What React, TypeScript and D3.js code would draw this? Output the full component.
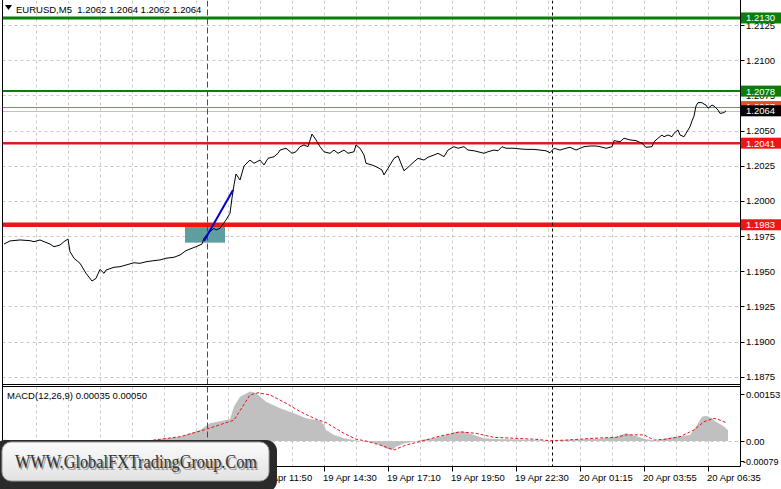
import React from "react";
import * as d3 from "d3";

// ---------- DATA ----------
const priceBars = [0,3,8,13,15,18,20,23,25,28,30,32,33,35,38,41,44,46,48,50,51,55,58,61,65,68,71,75,78,81,85,88,91,94,96,99,100,102,105,106,108,111,113,114,115,116,118,120,121,123,125,128,130,132,135,137,138,141,144,146,148,150,152,154,156,158,160,163,165,167,170,172,175,176,178,180,181,184,186,189,190,192,195,197,200,202,205,207,210,212,215,217,220,222,225,227,230,232,235,237,240,242,245,247,249,251,255,258,261,265,268,271,273,275,278,281,283,286,290,293,296,298,301,304,305,308,310,313,316,319,321,324,325,327,329,330,332,334,335,337,338,340,341,343,344,345,346,347,349,350,351,352,354,355,357,358,360,361];
const priceValues = [1.19693,1.19715,1.19722,1.19717,1.19710,1.19722,1.19710,1.19693,1.19674,1.19686,1.19710,1.19729,1.19639,1.19592,1.19556,1.19485,1.19430,1.19449,1.19513,1.19485,1.19508,1.19528,1.19532,1.19544,1.19560,1.19556,1.19567,1.19575,1.19580,1.19592,1.19599,1.19615,1.19646,1.19663,1.19674,1.19693,1.19734,1.19769,1.19805,1.19793,1.19805,1.19864,1.19912,1.20020,1.20113,1.20191,1.20148,1.20248,1.20262,1.20290,1.20267,1.20290,1.20255,1.20302,1.20314,1.20338,1.20361,1.20374,1.20338,1.20349,1.20385,1.20397,1.20385,1.20475,1.20433,1.20385,1.20349,1.20338,1.20361,1.20338,1.20361,1.20338,1.20349,1.20397,1.20374,1.20326,1.20267,1.20255,1.20243,1.20219,1.20184,1.20231,1.20302,1.20319,1.20214,1.20238,1.20278,1.20302,1.20290,1.20310,1.20326,1.20338,1.20314,1.20361,1.20385,1.20374,1.20385,1.20361,1.20356,1.20349,1.20338,1.20349,1.20361,1.20356,1.20385,1.20374,1.20374,1.20369,1.20366,1.20366,1.20361,1.20356,1.20342,1.20374,1.20361,1.20374,1.20381,1.20361,1.20385,1.20390,1.20390,1.20385,1.20374,1.20385,1.20428,1.20420,1.20445,1.20433,1.20428,1.20409,1.20381,1.20385,1.20420,1.20445,1.20468,1.20456,1.20468,1.20456,1.20480,1.20504,1.20468,1.20456,1.20480,1.20527,1.20568,1.20603,1.20674,1.20698,1.20698,1.20688,1.20681,1.20658,1.20681,1.20674,1.20646,1.20622,1.20627,1.20640];

const histBars = [0,20,30,36,42,48,55,65,75,88,98,103,113,115,118,123,126,131,138,145,151,158,160,161,165,170,175,178,183,188,191,194,196,200,205,208,215,221,226,230,235,240,248,256,265,273,281,290,298,306,311,316,321,326,331,336,343,346,349,351,354,356,360,362];
const histValues = [0.00003,0.00002,0.00000,-0.00010,-0.00030,-0.00036,-0.00025,-0.00008,0.00004,0.00014,0.00036,0.00058,0.00071,0.00112,0.00144,0.00161,0.00156,0.00128,0.00107,0.00090,0.00074,0.00066,0.00052,0.00036,0.00020,0.00009,0.00003,0.00000,-0.00002,-0.00013,-0.00024,-0.00029,-0.00019,-0.00008,-0.00002,0.00003,0.00009,0.00020,0.00030,0.00030,0.00020,0.00009,0.00006,0.00006,0.00003,0.00000,0.00003,0.00006,0.00007,0.00014,0.00025,0.00016,0.00006,0.00001,0.00009,0.00014,0.00020,0.00047,0.00079,0.00082,0.00074,0.00063,0.00047,0.00035];

const signalBars = [0,30,45,55,63,88,101,115,123,127,133,141,148,156,161,170,176,181,188,195,201,208,218,228,236,245,255,265,273,281,295,306,311,320,325,331,338,345,350,355,358,361];
const signalValues = [0.00002,0.00000,-0.00012,-0.00020,-0.00007,0.00014,0.00038,0.00068,0.00150,0.00157,0.00150,0.00123,0.00096,0.00071,0.00060,0.00025,0.00006,0.00000,-0.00013,-0.00029,-0.00013,-0.00002,0.00016,0.00030,0.00025,0.00012,0.00009,0.00006,0.00001,0.00003,0.00009,0.00012,0.00020,0.00020,0.00003,0.00006,0.00014,0.00036,0.00063,0.00074,0.00068,0.00060];

const priceTicks = [1.2125,1.2100,1.2075,1.2050,1.2025,1.2000,1.1975,1.1950,1.1925,1.1900,1.1875];
const macdTicks = [0.00153, 0.0, -0.00079];
const macdTickLabels = ["0.00153", "0.00", "-0.00079"];
const timeTickBars = [32,64,96,128,160,192,224,256,288,320,352];
const timeTickLabels = ["19 Apr 03:50","19 Apr 06:30","19 Apr 09:10","19 Apr 11:50","19 Apr 14:30","19 Apr 17:10","19 Apr 19:50","19 Apr 22:30","20 Apr 01:15","20 Apr 03:55","20 Apr 06:35"];
const gridBars = d3.range(16, 368, 16);

const greenLevels = [1.2130, 1.2078];
const redLevels = [1.2041, 1.1983];
const askLevel = 1.2067;
const bidLevel = 1.2064;
const trendBars = [100, 114.5];
const trendValues = [1.19715, 1.20077];
const zoneBars = [90.5, 110.5];
const zoneValues = [1.19703, 1.19816];
const redVLineBar = 101.5;
const blackVLineBar = 273.8;

const title = "EURUSD,M5  1.2062 1.2064 1.2062 1.2064";
const macdTitle = "MACD(12,26,9) 0.00035 0.00050";
const watermark = "WWW.GlobalFXTradingGroup.Com";

// ---------- CHART ----------
const W = 781, H = 489;
const L = 2.5, R = 740.5;
const mainTop = 0.5, mainBottom = 384.5;
const macdTop = 386.5, macdBottom = 466.5;
const font = "'Liberation Sans', Arial, sans-serif";

export default function App() {
  const x = d3.scaleLinear().domain([0, 368]).range([4, 740]);
  const y = d3.scaleLinear().domain([1.1875, 1.2125]).range([376.7, 25]);
  const my = d3.scaleLinear().domain([-0.00079, 0.00153]).range([465.3, 394]);

  const priceData = priceBars.map((b, i) => [b, priceValues[i]] as [number, number]);
  const histData = histBars.map((b, i) => [b, histValues[i]] as [number, number]);
  const sigData = signalBars.map((b, i) => [b, signalValues[i]] as [number, number]);

  const priceLine = d3.line<[number, number]>().x(d => x(d[0])).y(d => y(d[1]))(priceData) || "";
  const histArea = d3.area<[number, number]>().x(d => x(d[0])).y0(my(0)).y1(d => my(d[1]))(histData) || "";
  const sigLine = d3.line<[number, number]>().x(d => x(d[0])).y(d => my(d[1]))(sigData) || "";

  const grid = "#c8c8c8";
  const px = (v: number) => Math.round(v) + 0.5;

  const boxLabel = (v: number, fill: string, key: string) => {
    const cy = y(v);
    return (
      <g key={key}>
        <rect x={741} y={cy - 5.5} width={40} height={11} fill={fill} />
        <text x={746} y={cy + 3.5} fontSize={9.5} fill="#fff" fontFamily={font}>{v.toFixed(4)}</text>
      </g>
    );
  };

  return (
    <svg width={W} height={H} style={{ position: "absolute", left: 0, top: 0, background: "#fff", display: "block" }}>
      <defs>
        <linearGradient id="wmg" x1="0" y1="0" x2="0" y2="1">
          <stop offset="0" stopColor="#fbfbfb" />
          <stop offset="1" stopColor="#e2e2e2" />
        </linearGradient>
        <clipPath id="mainClip"><rect x={L} y={mainTop} width={R - L} height={mainBottom - mainTop} /></clipPath>
        <clipPath id="macdClip"><rect x={L} y={macdTop} width={R - L} height={macdBottom - macdTop} /></clipPath>
      </defs>
      <rect x={0} y={0} width={W} height={H} fill="#fff" />

      {/* main grid */}
      <g clipPath="url(#mainClip)">
        {gridBars.map(b => (
          <line key={"gv" + b} x1={px(x(b))} x2={px(x(b))} y1={mainTop} y2={mainBottom} stroke={grid} strokeDasharray="3,3" />
        ))}
        {priceTicks.map(t => (
          <line key={"gh" + t} x1={L} x2={R} y1={px(y(t))} y2={px(y(t))} stroke={grid} strokeDasharray="3,3" />
        ))}
        {/* zone */}
        <rect x={x(zoneBars[0])} y={y(zoneValues[1])} width={x(zoneBars[1]) - x(zoneBars[0])} height={y(zoneValues[0]) - y(zoneValues[1])} fill="#5f9ea0" />
        {/* levels */}
        <line x1={L} x2={R} y1={y(greenLevels[0])} y2={y(greenLevels[0])} stroke="#0a7d0a" strokeWidth={3} />
        <line x1={L} x2={R} y1={y(greenLevels[1])} y2={y(greenLevels[1])} stroke="#0a7d0a" strokeWidth={2} />
        <line x1={L} x2={R} y1={px(y(bidLevel))} y2={px(y(bidLevel))} stroke="#c0c0c0" strokeWidth={1} />
        <line x1={L} x2={R} y1={px(y(askLevel))} y2={px(y(askLevel))} stroke="#e06a28" strokeWidth={1} />
        <line x1={L} x2={R} y1={y(redLevels[0])} y2={y(redLevels[0])} stroke="#d81e1e" strokeWidth={2.5} />
        <line x1={L} x2={R} y1={y(redLevels[1])} y2={y(redLevels[1])} stroke="#f01414" strokeWidth={4.5} />
        {/* vertical markers */}
        <line x1={px(x(redVLineBar))} x2={px(x(redVLineBar))} y1={mainTop} y2={mainBottom} stroke="#ff0000" strokeDasharray="6,3" />
        <line x1={px(x(blackVLineBar))} x2={px(x(blackVLineBar))} y1={mainTop} y2={mainBottom} stroke="#000" strokeDasharray="3,3" />
        {/* price */}
        <path d={priceLine} fill="none" stroke="#000" strokeWidth={1} />
        {/* trend line */}
        <line x1={x(trendBars[0])} y1={y(trendValues[0])} x2={x(trendBars[1])} y2={y(trendValues[1])} stroke="#0000cc" strokeWidth={2} />
      </g>

      {/* MACD panel */}
      <g clipPath="url(#macdClip)">
        {gridBars.map(b => (
          <line key={"mgv" + b} x1={px(x(b))} x2={px(x(b))} y1={macdTop} y2={macdBottom} stroke={grid} strokeDasharray="3,3" />
        ))}
        <path d={histArea} fill="#c0c0c0" />
        <line x1={L} x2={R} y1={px(my(0))} y2={px(my(0))} stroke={grid} strokeDasharray="3,3" />
        <line x1={px(x(redVLineBar))} x2={px(x(redVLineBar))} y1={macdTop} y2={macdBottom} stroke="#ff0000" strokeDasharray="6,3" />
        <line x1={px(x(blackVLineBar))} x2={px(x(blackVLineBar))} y1={macdTop} y2={macdBottom} stroke="#000" strokeDasharray="3,3" />
        <path d={sigLine} fill="none" stroke="#e0141e" strokeWidth={1} strokeDasharray="3,2" />
      </g>

      {/* frames */}
      <line x1={L} x2={L} y1={0} y2={macdBottom} stroke="#000" />
      <line x1={R} x2={R} y1={0} y2={macdBottom} stroke="#000" />
      <line x1={L} x2={R} y1={mainBottom} y2={mainBottom} stroke="#000" />
      <line x1={L} x2={R} y1={macdTop} y2={macdTop} stroke="#000" />
      <line x1={L} x2={R} y1={macdBottom} y2={macdBottom} stroke="#000" />

      {/* price axis */}
      {priceTicks.map(t => (
        <g key={"pt" + t}>
          <line x1={R} x2={R + 4} y1={px(y(t))} y2={px(y(t))} stroke="#000" />
          <text x={746} y={y(t) + 3.5} fontSize={9.5} fontFamily={font} fill="#000">{t.toFixed(4)}</text>
        </g>
      ))}
      {boxLabel(greenLevels[0], "#0a7d0a", "g0")}
      {boxLabel(greenLevels[1], "#0a7d0a", "g1")}
      {boxLabel(askLevel, "#e0502a", "ask")}
      {boxLabel(bidLevel, "#000", "bid")}
      {boxLabel(redLevels[0], "#f01414", "r0")}
      {boxLabel(redLevels[1], "#f01414", "r1")}

      {/* macd axis */}
      {macdTicks.map((t, i) => {
        const yy = i === 2 ? 461 : my(t);
        return (
          <g key={"mt" + i}>
            <line x1={R} x2={R + 4} y1={px(yy)} y2={px(yy)} stroke="#000" />
            <text x={i === 2 ? 743 : 746} y={yy + 3.5} fontSize={i === 2 ? 9 : 9.5} fontFamily={font} fill="#000">{macdTickLabels[i]}</text>
          </g>
        );
      })}

      {/* time axis */}
      {timeTickBars.map((b, i) => (
        <g key={"tt" + b}>
          <line x1={px(x(b))} x2={px(x(b))} y1={macdBottom} y2={macdBottom + 5} stroke="#000" />
          <text x={Math.round(x(b)) - 1} y={481} fontSize={9.5} fontFamily={font} fill="#000">{timeTickLabels[i]}</text>
        </g>
      ))}

      {/* titles */}
      <path d="M5,5 L12,5 L8.5,10 Z" fill="#000" />
      <text x={16} y={13} fontSize={9.5} fontFamily={font} fill="#000" style={{ whiteSpace: "pre" }}>{title}</text>
      <text x={7} y={399} fontSize={9.5} fontFamily={font} fill="#000">{macdTitle}</text>

      {/* watermark */}
      <rect x={-6} y={440} width={283} height={52} rx={11} fill="#2a2a2a" />
      <rect x={2} y={442} width={267} height={39} rx={9} fill="url(#wmg)" stroke="#9a9a9a" strokeWidth={1} />
      <text x={16.5} y={469.5} fontSize={19} fontFamily="'Liberation Serif', 'Times New Roman', serif" fill="#9a9a9a" textLength={242} lengthAdjust="spacingAndGlyphs">{watermark}</text>
      <text x={15} y={468} fontSize={19} fontFamily="'Liberation Serif', 'Times New Roman', serif" fill="#333" textLength={242} lengthAdjust="spacingAndGlyphs">{watermark}</text>
    </svg>
  );
}
